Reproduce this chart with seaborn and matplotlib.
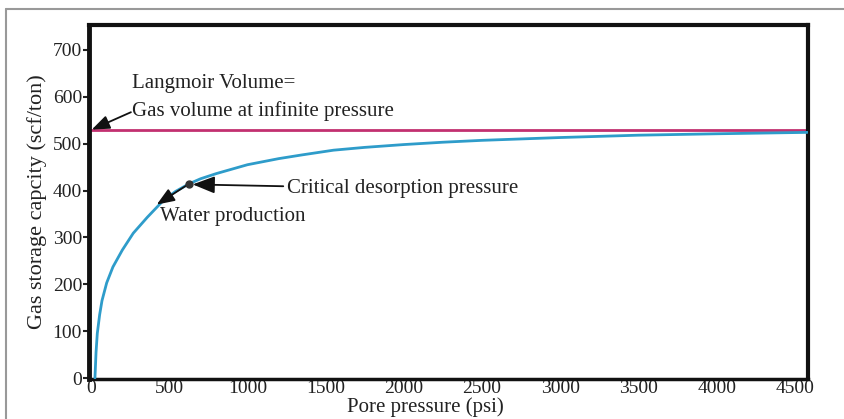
import matplotlib
matplotlib.use("Agg")
import matplotlib.pyplot as plt
import seaborn as sns
import pandas as pd
from matplotlib.lines import Line2D

sns.set_theme(style="white")
plt.rcParams['font.family'] = ['Liberation Serif', 'DejaVu Serif']

# Data
pressure = [25, 32, 40, 55, 70, 100, 140, 200, 270, 360, 460, 540, 625, 700,
            800, 1000, 1200, 1350, 1550, 1750, 2000, 2250, 2500, 3000, 3500,
            4000, 4580]
storage = [0, 55, 95, 135, 165, 203, 237, 273, 309, 343, 378, 398, 414, 425,
           436, 455, 468, 476, 486, 492, 498, 503, 507, 513, 518, 521, 524]
langmuir_volume = 530
critical_p, critical_v = 625, 414
x_ticks = [0, 500, 1000, 1500, 2000, 2500, 3000, 3500, 4000, 4500]
y_ticks = [0, 100, 200, 300, 400, 500, 600, 700]

df = pd.DataFrame({"p": pressure, "v": storage})

fig = plt.figure(figsize=(8.45, 4.19), dpi=100)
ax = fig.add_axes([89/845, 1-379/419, (808-89)/845, (379-25)/419])

ax.axhline(langmuir_volume, color="#c23070", lw=2.0, zorder=2)
sns.lineplot(data=df, x="p", y="v", ax=ax, color="#2e9cca", lw=2.0, zorder=3)
ax.plot([critical_p], [critical_v], marker="o", ms=5, color="#333333", zorder=4)

ax.set_xlim(-13, 4584)
ax.set_ylim(-2, 753)
ax.set_xticks(x_ticks)
ax.set_yticks(y_ticks)
ax.tick_params(axis="both", labelsize=14, colors="#222222", length=4, width=1.5,
               direction="out", pad=1)
ax.tick_params(axis="x", length=0)
ax.tick_params(axis="y", left=True)
ax.set_xlabel("Pore pressure (psi)", fontsize=15, color="#222222", labelpad=0)
ax.xaxis.set_label_coords((425-89)/(808-89), -0.052)
ax.set_ylabel("Gas storage capcity (scf/ton)", fontsize=16, color="#222222", labelpad=4)

for s in ["left", "right", "top", "bottom"]:
    ax.spines[s].set_color("#111111")
ax.spines["left"].set_linewidth(3.5)
ax.spines["right"].set_linewidth(3)
ax.spines["top"].set_linewidth(3)
ax.spines["bottom"].set_linewidth(2.5)

arrow = dict(arrowstyle="-|>,head_length=0.9,head_width=0.35", color="#111111", lw=1.3,
             shrinkA=0, shrinkB=0)

ax.text(265, 628, "Langmoir Volume=", fontsize=15, color="#222222", va="center")
ax.text(265, 570, "Gas volume at infinite pressure", fontsize=15, color="#222222",
        va="center")
ax.annotate("", xy=(5, langmuir_volume), xytext=(255, 567), arrowprops=arrow)
ax.annotate("Critical desorption pressure", xy=(650, 413), xytext=(1250, 404),
            fontsize=15, color="#222222", va="center", arrowprops=arrow)
ax.annotate("", xy=(420, 370), xytext=(critical_p, critical_v), arrowprops=arrow)
ax.text(440, 345, "Water production", fontsize=15, color="#222222", va="center")

# outer frame lines
fig.add_artist(Line2D([6/845, 6/845], [0, 1-9/419], transform=fig.transFigure,
                      color="#999999", lw=1.5))
fig.add_artist(Line2D([6/845, 1], [1-9/419, 1-9/419], transform=fig.transFigure,
                      color="#999999", lw=1.5))

fig.savefig("out.png", dpi=100)
